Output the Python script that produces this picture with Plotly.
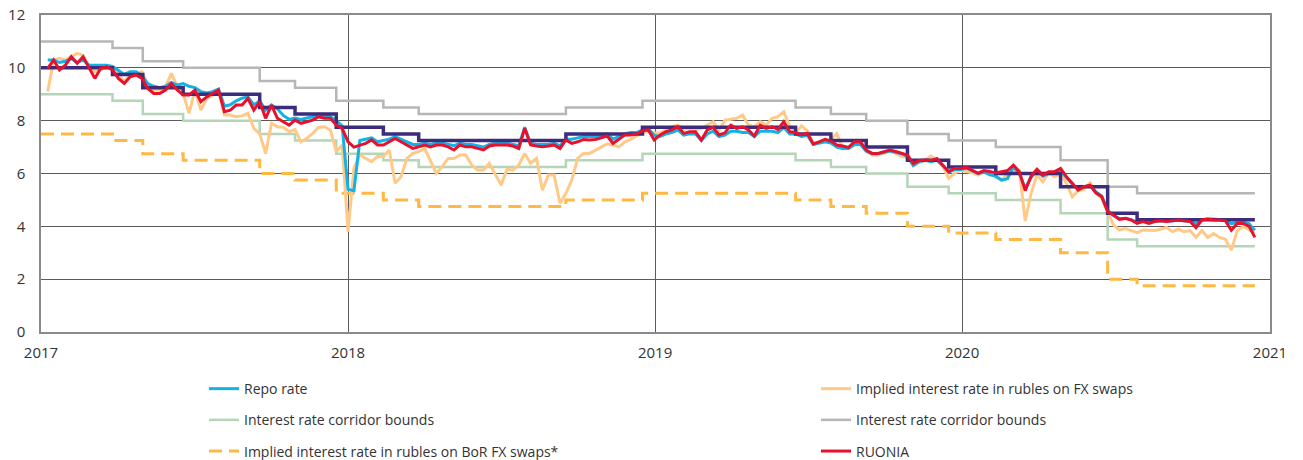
import pandas as pd
import plotly.graph_objects as go

# ---------------- step series (policy rates) ----------------
step_dates = ["2017-01-01", "2017-03-27", "2017-05-02", "2017-06-19", "2017-09-18", "2017-10-30",
              "2017-12-18", "2018-02-12", "2018-03-26", "2018-09-17", "2018-12-17", "2019-06-17",
              "2019-07-29", "2019-09-09", "2019-10-28", "2019-12-16", "2020-02-10", "2020-04-27",
              "2020-06-22", "2020-07-27", "2020-12-14"]
key_rate = [10.0, 9.75, 9.25, 9.0, 8.5, 8.25, 7.75, 7.5, 7.25, 7.5, 7.75, 7.5, 7.25, 7.0, 6.5, 6.25,
            6.0, 5.5, 4.5, 4.25, 4.25]
corridor_upper = [11.0, 10.75, 10.25, 10.0, 9.5, 9.25, 8.75, 8.5, 8.25, 8.5, 8.75, 8.5, 8.25, 8.0, 7.5,
                  7.25, 7.0, 6.5, 5.5, 5.25, 5.25]
corridor_lower = [9.0, 8.75, 8.25, 8.0, 7.5, 7.25, 6.75, 6.5, 6.25, 6.5, 6.75, 6.5, 6.25, 6.0, 5.5,
                  5.25, 5.0, 4.5, 3.5, 3.25, 3.25]
bor_fx_swaps = [7.5, 7.25, 6.75, 6.5, 6.0, 5.75, 5.25, 5.0, 4.75, 5.0, 5.25, 5.0, 4.75, 4.5, 4.0,
                3.75, 3.5, 3.0, 2.0, 1.75, 1.75]

# ---------------- weekly market series (2017-01-09 .. 2020-12-14) ----------------
weeks = pd.date_range("2017-01-09", periods=206, freq="7D")

ruonia = (
    [9.98, 10.3, 9.92, 10.1, 10.42, 10.17, 10.42, 9.98, 9.6, 9.98, 10.04, 9.92, 9.6, 9.41, 9.66, 9.73,
     9.6, 9.22, 9.03, 9.03, 9.16, 9.41, 9.16, 8.97, 8.97, 9.16, 8.72, 8.9, 9.03, 9.16, 8.34, 8.4, 8.59, 8.59]
    + [8.84, 8.4, 8.72, 8.09, 8.59, 8.09, 7.96, 7.83, 8.02, 7.9, 7.96, 8.02, 8.15, 8.09, 8.09, 7.83, 7.71]
    + [7.2, 7.0]
    + [7.08, 7.14, 7.27, 7.08, 7.08, 7.2, 7.33, 7.2, 7.08, 6.95, 7.01, 7.08, 7.01, 7.08, 7.08, 7.01]
    + [6.89, 7.08, 7.01, 7.01, 6.95, 6.89, 7.04, 7.08, 7.08, 7.08, 7.04, 6.95, 7.71, 7.08, 7.04, 7.01,
       7.04, 7.08, 6.95, 7.27, 7.14, 7.2, 7.29, 7.27, 7.29, 7.37, 7.42, 7.14, 7.29, 7.46, 7.46, 7.49,
       7.62, 7.65, 7.27]
    + [7.46, 7.58, 7.65, 7.77, 7.52, 7.58, 7.58, 7.27, 7.65, 7.75, 7.46, 7.54, 7.83, 7.71, 7.77, 7.65,
       7.42, 7.83, 7.71, 7.77, 7.67, 7.96, 7.58, 7.54, 7.46, 7.52, 7.12, 7.2, 7.29, 7.23, 7.08, 7.04,
       6.99, 7.2, 7.2]
    + [6.89, 6.76, 6.76, 6.83, 6.89, 6.83, 6.76, 6.7, 6.38, 6.49, 6.51, 6.49, 6.57, 6.32, 6.07, 6.19,
       6.19, 6.23, 6.13, 6.01, 6.11, 6.07, 6.03, 6.07, 6.11, 6.32, 6.07, 5.35, 5.9, 6.16, 5.94, 6.07,
       6.07, 6.19, 5.88]
    + [5.63, 5.37, 5.5, 5.56, 5.27, 5.12, 4.55, 4.43, 4.26, 4.3, 4.24, 4.11, 4.18, 4.11, 4.18, 4.21,
       4.18, 4.21, 4.24, 4.21, 4.18, 3.95, 4.24, 4.28, 4.24, 4.24, 4.21, 3.85, 4.11, 4.11, 4.01, 3.58]
)

repo_rate = (
    [10.3, 10.3, 10.2, 10.25, 10.35, 10.2, 10.3, 10.1, 10.1, 10.1, 10.1, 10.05, 9.9, 9.75, 9.85, 9.85,
     9.7, 9.4, 9.3, 9.25, 9.3, 9.45, 9.35, 9.4, 9.3, 9.25, 9.1, 9.05, 9.1, 9.2, 8.55, 8.6, 8.75, 8.85]
    + [8.9, 8.6, 8.75, 8.4, 8.6, 8.45, 8.2, 8.05, 8.1, 8.05, 8.1, 8.15, 8.25, 8.2, 8.15, 8.0, 7.8]
    + [5.4, 5.35]
    + [7.25, 7.3, 7.35, 7.2, 7.25, 7.3, 7.4, 7.3, 7.2, 7.1, 7.1, 7.15, 7.1, 7.15, 7.15, 7.1]
    + [7.05, 7.15, 7.1, 7.1, 7.05, 7.0, 7.1, 7.15, 7.15, 7.15, 7.1, 7.05, 7.75, 7.15, 7.1, 7.1,
       7.1, 7.15, 7.05, 7.3, 7.3, 7.35, 7.4, 7.4, 7.4, 7.45, 7.5, 7.3, 7.4, 7.5, 7.55, 7.55,
       7.65, 7.7, 7.45]
    + [7.4, 7.5, 7.55, 7.65, 7.45, 7.5, 7.5, 7.25, 7.5, 7.6, 7.4, 7.45, 7.6, 7.6, 7.55, 7.55,
       7.4, 7.6, 7.6, 7.6, 7.55, 7.75, 7.5, 7.5, 7.4, 7.45, 7.1, 7.15, 7.2, 7.15, 7.0, 6.95,
       6.95, 7.1, 7.1]
    + [6.85, 6.75, 6.75, 6.8, 6.85, 6.8, 6.75, 6.65, 6.3, 6.45, 6.5, 6.45, 6.5, 6.3, 6.05, 6.15,
       6.15, 6.2, 6.1, 6.0, 6.05, 5.95, 5.9, 5.75, 5.8, 6.25, 6.0, 5.45, 5.85, 6.1, 5.9, 6.0,
       6.0, 6.1, 5.85]
    + [5.6, 5.4, 5.5, 5.55, 5.3, 5.15, 4.6, 4.4, 4.3, 4.3, 4.25, 4.15, 4.2, 4.15, 4.2, 4.2,
       4.2, 4.2, 4.25, 4.2, 4.2, 4.1, 4.25, 4.28, 4.28, 4.25, 4.22, 4.1, 4.15, 4.15, 4.1, 3.85]
)

fx_swaps = (
    [9.1, 10.3, 10.36, 10.3, 10.42, 10.55, 10.48, 10.04, 9.85, 9.92, 10.04, 9.98, 9.73, 9.48, 9.73, 9.79,
     9.85, 9.35, 9.16, 9.16, 9.29, 9.79, 9.29, 9.03, 8.28, 9.16, 8.4, 8.84, 8.97, 9.16, 8.21, 8.21, 8.15, 8.18]
    + [8.28, 7.71, 7.5, 6.75, 7.9, 7.77, 7.75, 7.58, 7.67, 7.2, 7.33, 7.52, 7.75, 7.77, 7.65, 6.83, 7.08]
    + [3.8, 6.2]
    + [6.7, 6.57, 6.45, 6.64, 6.64, 6.89, 5.63, 5.88, 6.57, 6.76, 6.83, 6.95, 6.45, 6.0, 6.26, 6.57]
    + [6.57, 6.7, 6.7, 6.32, 6.13, 6.13, 6.38, 5.94, 5.56, 6.16, 6.13, 6.32, 6.76, 6.38, 6.57, 5.37,
       5.94, 5.94, 4.87, 5.25, 5.75, 6.57, 6.76, 6.76, 6.89, 7.01, 7.12, 7.08, 7.01, 7.2, 7.29, 7.42,
       7.52, 7.62, 7.52]
    + [7.54, 7.65, 7.77, 7.83, 7.67, 7.71, 7.65, 7.71, 7.83, 7.96, 7.65, 8.02, 8.05, 8.09, 8.21, 7.83,
       7.77, 7.96, 7.83, 8.09, 8.15, 8.34, 7.77, 7.54, 7.8, 7.62, 7.14, 7.2, 7.2, 7.29, 7.52, 6.95,
       6.95, 7.08, 7.14]
    + [6.83, 6.7, 6.7, 6.76, 6.86, 6.76, 6.64, 6.61, 6.32, 6.41, 6.49, 6.66, 6.51, 6.28, 5.82, 6.01,
       6.13, 6.07, 6.03, 5.94, 6.07, 6.11, 5.85, 5.75, 5.98, 6.07, 6.13, 4.2, 5.25, 5.94, 5.69, 6.03,
       5.88, 5.98, 5.63]
    + [5.12, 5.35, 5.4, 5.65, 5.27, 5.06, 4.55, 4.05, 3.86, 3.92, 3.84, 3.76, 3.86, 3.84, 3.84, 3.89,
       3.96, 3.8, 3.89, 3.8, 3.84, 3.58, 3.84, 3.58, 3.73, 3.58, 3.51, 3.1, 3.82, 3.99, 3.89, 3.73]
)

assert len(ruonia) == len(weeks) and len(repo_rate) == len(weeks) and len(fx_swaps) == len(weeks)

year_ticks = ["2017-01-01", "2018-01-01", "2019-01-01", "2020-01-01", "2021-01-01"]
year_labels = ["2017", "2018", "2019", "2020", "2021"]

FONT = "Open Sans"
fig = go.Figure()

def add(x, y, name, color, width, legend=None, rank=None, dash=None, shape="linear", show=True):
    fig.add_trace(go.Scatter(
        x=x, y=y, name=name, mode="lines",
        line=dict(color=color, width=width, dash=dash, shape=shape),
        showlegend=show, legend=legend, legendgroup=name + (legend or ""),
        legendrank=rank if rank else 1000, hoverinfo="skip"))

add(step_dates, corridor_upper, "Interest rate corridor bounds", "#b6b6b6", 2.5, "legend2", 2, shape="hv")
add(step_dates, corridor_lower, "Interest rate corridor bounds", "#b4d5b7", 2.5, "legend", 2, shape="hv")
add(step_dates, bor_fx_swaps, "Implied interest rate in rubles on BoR FX swaps*", "#ffb942", 3,
    "legend", 3, dash="13px,7px", shape="hv")
add(weeks, fx_swaps, "Implied interest rate in rubles on FX swaps", "#ffca88", 3, "legend2", 1)
add(weeks, repo_rate, "Repo rate", "#12b2e6", 3, "legend", 1)
add(step_dates, key_rate, "Key rate", "#3c2d7c", 3.5, shape="hv", show=False)
add(weeks, ruonia, "RUONIA", "#e8112d", 3, "legend2", 3)

legend_common = dict(orientation="v", yanchor="top", xanchor="left", tracegroupgap=10,
                     font=dict(family=FONT, size=14, color="#333333"), bgcolor="rgba(0,0,0,0)",
                     itemwidth=30, traceorder="grouped")

fig.update_layout(
    width=1303, height=460,
    margin=dict(l=41, r=33, t=15, b=128, autoexpand=False),
    paper_bgcolor="white", plot_bgcolor="white",
    font=dict(family=FONT, size=15, color="#333333"),
    legend=dict(x=(204 - 41) / 1229, y=-0.1295, **legend_common),
    legend2=dict(x=(816 - 41) / 1229, y=-0.1295, **legend_common),
    xaxis=dict(range=["2017-01-01", "2021-01-01"], tickvals=year_ticks, ticktext=year_labels,
               showgrid=True, gridcolor="#5a5a5a", gridwidth=1, showline=True, linecolor="#8a8a8a",
               linewidth=1.5, mirror=True, zeroline=False, ticks="", ticklabelstandoff=6,
               ticklabeloverflow="allow", automargin=False,
               tickfont=dict(family=FONT, size=15, color="#333333")),
    yaxis=dict(range=[0, 12], dtick=2, showgrid=True, gridcolor="#5a5a5a", gridwidth=1,
               showline=True, linecolor="#8a8a8a", linewidth=1.5, mirror=True, zeroline=False,
               ticks="", ticklabelstandoff=11, ticklabeloverflow="allow", automargin=False,
               tickfont=dict(family=FONT, size=15, color="#333333")),
)

# remove the browser's default 8 px body margin so the figure sits at the page origin
fig.write_html("out.html", config={"displayModeBar": False},
               post_script="document.body.style.margin='0px';")
